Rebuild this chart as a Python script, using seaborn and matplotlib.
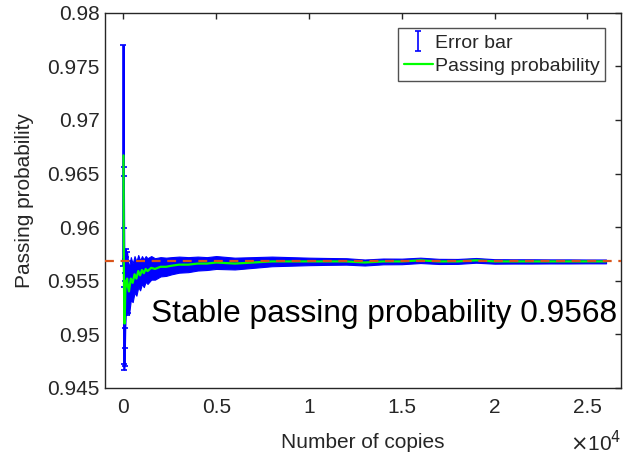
import matplotlib
matplotlib.use("Agg")
import matplotlib.pyplot as plt
import seaborn as sns
import pandas as pd
import numpy as np
from matplotlib.ticker import FuncFormatter

# early samples (first few hundred copies)
n_early = [5, 15, 25, 40, 60, 80, 100, 130, 160, 200, 250]
p_early = [0.9667, 0.9600, 0.9560, 0.9533, 0.9510, 0.9522, 0.9538, 0.9550, 0.9545, 0.9552, 0.9544]
err_early = [0.0103, 0.0056, 0.0088, 0.0066, 0.0040, 0.0035, 0.0032, 0.0030, 0.0027, 0.0025, 0.0024]

# rest of the run
n_main = [300, 400, 500, 600, 700, 800, 900, 1000, 1100, 1200, 1300, 1500, 1700,
          2000, 2300, 2600, 3000, 3500, 4000, 4500, 5000, 6000, 7000, 8000, 9000,
          10000, 11000, 12000, 13000, 14000, 15000, 16000, 17000, 18000, 19000,
          20000, 21000, 22000, 23000, 24000, 25000, 26000]
p_main = [0.9540, 0.9552, 0.9548, 0.9556, 0.9552, 0.9559, 0.9555, 0.9560, 0.9557,
          0.9561, 0.9559, 0.9562, 0.9561, 0.9563, 0.9563, 0.9564, 0.9565, 0.9565,
          0.9566, 0.9566, 0.9567, 0.9566, 0.9567, 0.9568, 0.9568, 0.9568, 0.9568,
          0.9568, 0.9567, 0.9568, 0.9568, 0.9569, 0.9568, 0.9568, 0.9569, 0.9568,
          0.9568, 0.9568, 0.9568, 0.9568, 0.9568, 0.9568]
err_main = [0.0022, 0.0020, 0.0018, 0.0017, 0.0016, 0.0015, 0.0014, 0.0013, 0.0013,
            0.0012, 0.0012, 0.0011, 0.0010, 0.0009, 0.00085, 0.0008, 0.00075, 0.0007,
            0.00065, 0.0006, 0.0006, 0.00055, 0.0005, 0.00045, 0.0004, 0.00035,
            0.00032, 0.0003, 0.00028, 0.00027, 0.00026, 0.00025, 0.00024, 0.00023,
            0.00022, 0.00021, 0.0002, 0.0002, 0.00019, 0.00019, 0.00018, 0.00018]

stable_p = 0.9568

sns.set_theme(style="white")
plt.rcParams["font.family"] = ["Liberation Sans", "DejaVu Sans"]

grey = "#262626"
n_all = n_early + n_main
p_all = p_early + p_main
e_all = err_early + err_main
df = pd.DataFrame({"copies": n_all, "p": p_all})

fig = plt.figure(figsize=(6.24, 4.59), dpi=100)
ax = fig.add_axes([0.168, 0.155, 0.827, 0.817])

lo = np.array(p_all) - np.array(e_all)
hi = np.array(p_all) + np.array(e_all)
ax.fill_between(n_all, lo, hi, color="blue", lw=0.8, zorder=2)
eb = ax.errorbar(n_early, p_early, yerr=err_early, fmt="none", ecolor="blue",
                 elinewidth=1.2, capsize=2, capthick=1.2, zorder=2,
                 label="Error bar")
sns.lineplot(data=df, x="copies", y="p", color="#00ff00", lw=1.6, ax=ax,
             zorder=3, label="Passing probability")
ax.axhline(stable_p, color="#D95319", ls=(0, (4, 3)), lw=1.6, zorder=4)

ax.text(1500, 0.9519, "Stable passing probability %.4f" % stable_p,
        fontsize=22.8, color="black", va="center", ha="left")

ax.set_xlim(-1000, 26800)
ax.set_ylim(0.945, 0.98)
ax.set_xticks(range(0, 25001, 5000))
ax.set_yticks(np.arange(0.945, 0.9801, 0.005))
ax.xaxis.set_major_formatter(FuncFormatter(lambda v, _: "%g" % (v / 1e4)))
ax.yaxis.set_major_formatter(FuncFormatter(lambda v, _: "%g" % round(v, 3)))
ax.tick_params(direction="in", length=4, width=1, colors=grey, labelsize=15,
               top=True, right=True)
ax.tick_params(axis="x", pad=7)
for s in ax.spines.values():
    s.set_color(grey)
    s.set_linewidth(1)

ax.set_xlabel("Number of copies", fontsize=15, color=grey, labelpad=12)
ax.set_ylabel("Passing probability", fontsize=15, color=grey, labelpad=10)
ax.text(1.0, -0.145, r"$\times$10$^{4}$", transform=ax.transAxes,
        ha="right", va="center", fontsize=15, color=grey)

handles, labels = ax.get_legend_handles_labels()
order = [labels.index("Error bar"), labels.index("Passing probability")]
leg = ax.legend([handles[i] for i in order], [labels[i] for i in order],
                loc="upper right", fontsize=14, frameon=True, fancybox=False,
                edgecolor=grey, borderpad=0.3, labelspacing=0.3,
                handlelength=1.5, handletextpad=0.1, borderaxespad=0.8)
leg.get_frame().set_linewidth(1)

fig.savefig("out.png", dpi=100)
